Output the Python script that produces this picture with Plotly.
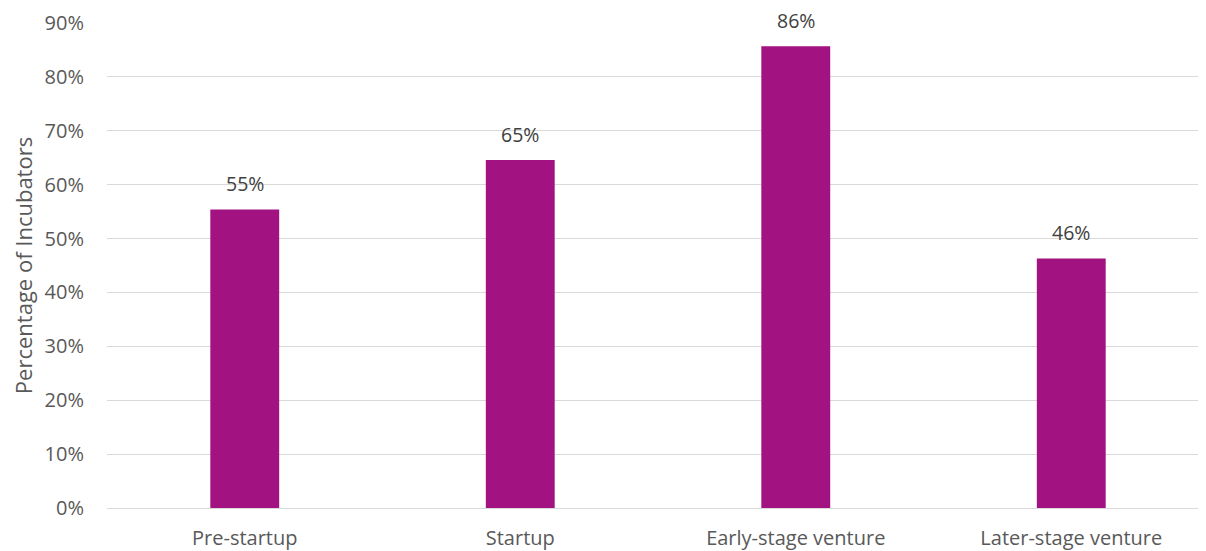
import plotly.graph_objects as go

categories = ["Pre-startup", "Startup", "Early-stage venture", "Later-stage venture"]
values = [55.4, 64.6, 85.7, 46.3]
labels = ["55%", "65%", "86%", "46%"]
tick_vals = [0, 10, 20, 30, 40, 50, 60, 70, 80, 90]
tick_text = ["0%", "10%", "20%", "30%", "40%", "50%", "60%", "70%", "80%", "90%"]

FONT = "Open Sans"
fig = go.Figure(go.Bar(
    x=categories, y=values,
    marker=dict(color="#A21381", line=dict(width=0)),
    width=0.25,
))
for c, v, t in zip(categories, values, labels):
    fig.add_annotation(x=c, y=v, text=t, showarrow=False, yanchor="bottom",
                       yshift=10, font=dict(family=FONT, size=19.5, color="#404040"))
fig.update_layout(
    width=1190, height=543,
    margin=dict(l=99, r=0, t=15, b=43),
    plot_bgcolor="white", paper_bgcolor="white",
    showlegend=False,
    font=dict(family=FONT, size=20, color="#595959"),
    xaxis=dict(showgrid=False, showline=False, ticks="", ticklabelstandoff=16,
               range=[-0.5, 3.46],
               tickfont=dict(size=20, color="#595959")),
    yaxis=dict(range=[0, 90], tickvals=tick_vals, ticktext=tick_text,
               showgrid=True, gridcolor="#D9D9D9", gridwidth=1.3,
               zeroline=True, zerolinecolor="#D9D9D9", zerolinewidth=1.3,
               showline=False, ticks="", ticklabelstandoff=22,
               tickfont=dict(size=20, color="#595959"),
               title=dict(text="Percentage of Incubators", standoff=12,
                          font=dict(size=22, color="#595959"))),
)
fig.write_html("out.html")
